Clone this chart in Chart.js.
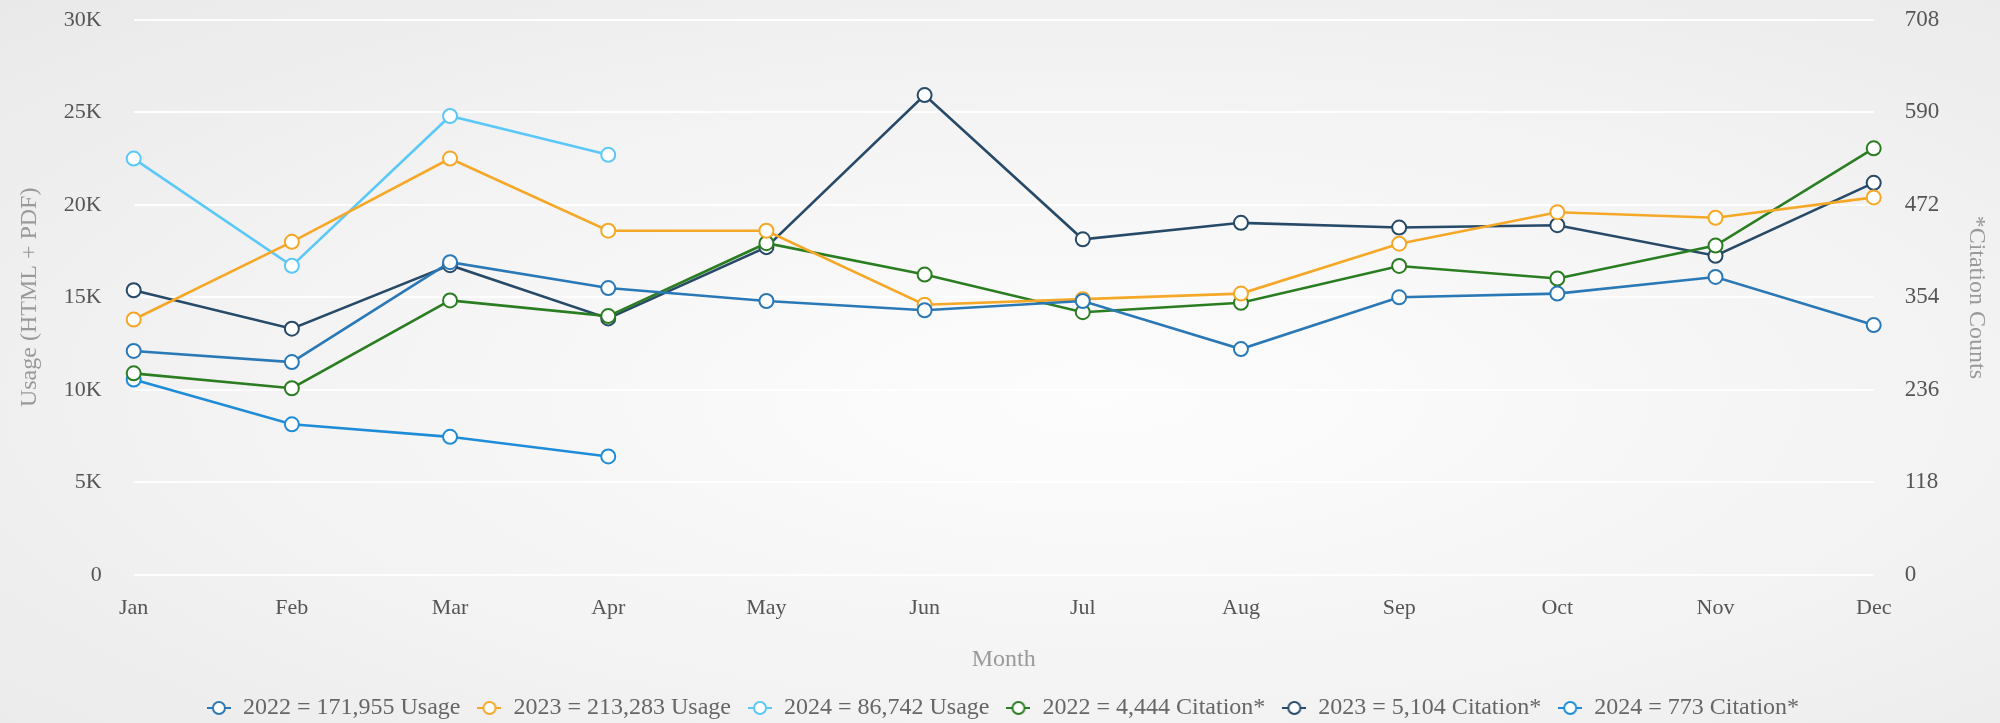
<!DOCTYPE html>
<html>
<head>
<meta charset="utf-8">
<script src="https://cdn.jsdelivr.net/npm/chart.js@4.4.1/dist/chart.umd.min.js"></script>
<style>
    html, body { margin: 0; padding: 0; }
    body {
        width: 2000px;
        height: 723px;
        background: radial-gradient(ellipse at 55% 55%, #fdfdfd 0%, #f3f3f3 55%, #e9e9e9 100%);
    }
    canvas { display: block; }
</style>
</head>
<body>
<canvas id="usageChart" width="2000" height="723"></canvas>
<script>
const months = ['Jan', 'Feb', 'Mar', 'Apr', 'May', 'Jun', 'Jul', 'Aug', 'Sep', 'Oct', 'Nov', 'Dec']

// usage, left axis
const usage2022 = [12100, 11500, 16900, 15500, 14800, 14300, 14800, 12200, 15000, 15200, 16100, 13500]
const usage2023 = [13800, 18000, 22500, 18600, 18600, 14600, 14900, 15200, 17900, 19600, 19300, 20400]
const usage2024 = [22500, 16700, 24800, 22700]

// citations, right axis
const citation2022 = [257, 238, 350, 330, 423, 383, 335, 347, 394, 378, 420, 544]
const citation2023 = [363, 314, 395, 327, 418, 612, 428, 449, 443, 446, 407, 500]
const citation2024 = [249, 192, 176, 151]

const seriesLabels = [
    '2022 = 171,955 Usage',
    '2023 = 213,283 Usage',
    '2024 = 86,742 Usage',
    '2022 = 4,444 Citation*',
    '2023 = 5,104 Citation*',
    '2024 = 773 Citation*',
]
const seriesColors = ['#2a79b6', '#f5a828', '#5cc8f8', '#2b7d22', '#274a68', '#1f8cd8']

const usageTicks = [0, 5000, 10000, 15000, 20000, 25000, 30000]
const citationTicks = [0, 118, 236, 354, 472, 590, 708]

Chart.defaults.font.family = "'Liberation Serif', 'Times New Roman', serif"
Chart.defaults.color = '#666'

function makeLegendIcon(color) {
    const c = document.createElement('canvas')
    c.width = 24
    c.height = 16
    const g = c.getContext('2d')
    g.strokeStyle = color
    g.lineWidth = 2
    g.beginPath()
    g.moveTo(0, 8)
    g.lineTo(24, 8)
    g.stroke()
    g.fillStyle = '#fff'
    g.beginPath()
    g.arc(12, 8, 6, 0, Math.PI * 2)
    g.fill()
    g.stroke()
    return c
}
const legendIcons = seriesColors.map(makeLegendIcon)

function lineSeries(label, data, color, axis) {
    return {
        label: label,
        data: data,
        yAxisID: axis,
        borderColor: color,
        backgroundColor: '#fff',
        borderWidth: 2.6,
        pointRadius: 7,
        pointHoverRadius: 7,
        pointBorderWidth: 2,
        pointBackgroundColor: '#fff',
        pointBorderColor: color,
        tension: 0,
    }
}

const ctx = document.getElementById('usageChart').getContext('2d')
const chart = new Chart(ctx, {
    type: 'line',
    data: {
        labels: months,
        datasets: [
            lineSeries(seriesLabels[0], usage2022, seriesColors[0], 'y'),
            lineSeries(seriesLabels[1], usage2023, seriesColors[1], 'y'),
            lineSeries(seriesLabels[2], usage2024, seriesColors[2], 'y'),
            lineSeries(seriesLabels[3], citation2022, seriesColors[3], 'y1'),
            lineSeries(seriesLabels[4], citation2023, seriesColors[4], 'y1'),
            lineSeries(seriesLabels[5], citation2024, seriesColors[5], 'y1'),
        ],
    },
    options: {
        responsive: false,
        animation: false,
        layout: { padding: { top: 0, left: 15, right: 9, bottom: -7 } },
        plugins: {
            legend: {
                position: 'bottom',
                labels: {
                    usePointStyle: true,
                    pointStyleWidth: 24,
                    padding: 17,
                    color: '#666',
                    font: { size: 24 },
                    generateLabels: function (chart) {
                        const items = Chart.defaults.plugins.legend.labels.generateLabels(chart)
                        items.forEach((item, i) => {
                            item.pointStyle = legendIcons[i]
                        })
                        return items
                    },
                },
            },
            tooltip: { enabled: false },
        },
        scales: {
            x: {
                grid: { display: false },
                border: { display: false },
                ticks: { padding: 12, font: { size: 22 }, color: '#555' },
                title: {
                    display: true,
                    text: 'Month',
                    color: '#999',
                    font: { size: 24 },
                    padding: { top: 12, bottom: 5 },
                },
            },
            y: {
                position: 'left',
                min: 0,
                max: 30000,
                afterBuildTicks: (axis) => {
                    axis.ticks = usageTicks.map((v) => ({ value: v }))
                },
                grid: {
                    color: 'rgba(255,255,255,0.9)',
                    lineWidth: 2,
                    drawTicks: true,
                    tickLength: 26,
                    tickColor: 'rgba(0,0,0,0)',
                },
                border: { display: false },
                ticks: {
                    padding: 6,
                    font: { size: 22 },
                    color: '#555',
                    callback: (v) => (v === 0 ? '0' : v / 1000 + 'K'),
                },
                title: {
                    display: true,
                    text: 'Usage (HTML + PDF)',
                    color: '#999',
                    font: { size: 24 },
                    padding: { top: 0, bottom: 14 },
                },
            },
            y1: {
                position: 'right',
                min: 0,
                max: 708,
                afterBuildTicks: (axis) => {
                    axis.ticks = citationTicks.map((v) => ({ value: v }))
                },
                grid: { display: false, drawTicks: true, tickLength: 25 },
                border: { display: false },
                ticks: { padding: 6, font: { size: 23 }, color: '#555' },
                title: {
                    display: true,
                    text: '*Citation Counts',
                    color: '#999',
                    font: { size: 24 },
                    padding: { top: 0, bottom: 17 },
                },
            },
        },
    },
})
</script>
</body>
</html>
